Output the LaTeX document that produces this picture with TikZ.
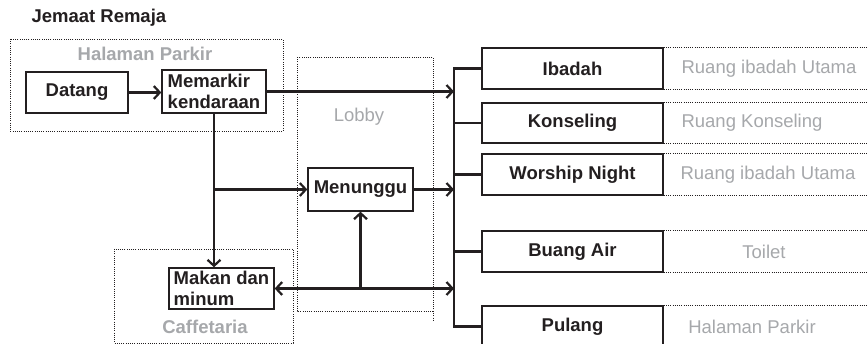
\documentclass[tikz,border=0pt]{standalone}
\usepackage{fontspec}
\setmainfont{Liberation Sans}
\usetikzlibrary{arrows.meta}
\definecolor{ink}{HTML}{231F20}
\definecolor{soft}{HTML}{A6A8AB}

\begin{document}
\begin{tikzpicture}[x=1pt,y=-1pt,
  box/.style={draw=ink, line width=1.4pt, text=ink, inner sep=0pt,
    font=\bfseries\fontsize{18.5}{21}\selectfont},
  zone/.style={draw=ink, dash pattern=on 1pt off 1.2pt, line width=0.7pt},
  zonelabel/.style={text=soft, font=\bfseries\fontsize{18.5}{21}\selectfont},
  place/.style={text=soft, font=\fontsize{18.5}{21}\selectfont},
  wire/.style={draw=ink, line width=2.2pt},
  flow/.style={wire, -{Straight Barb[length=6pt,width=13pt]}},
  twoway/.style={wire, {Straight Barb[length=6pt,width=13pt]}-{Straight Barb[length=6pt,width=13pt]}},
]
\useasboundingbox (0,0) rectangle (867,344);
\clip (0,0) rectangle (867,344);
\fill[white] (0,0) rectangle (867,344);

% title
\node[anchor=base west, text=ink, font=\bfseries\fontsize{18.5}{21}\selectfont] (title) at (28,23) {Jemaat Remaja};

% zones
\draw[zone] (10,39) rectangle (283,131);
\node[zonelabel] (parkirLabel) at (145,54) {Halaman Parkir};
\draw[zone] (297,57) rectangle (433,311);
\draw[zone] (433,311) -- (433,322);
\node[place] (lobbyLabel) at (359,117) {Lobby};
\draw[zone] (114,249) rectangle (293,343);
\node[zonelabel] (cafeLabel) at (205,327) {Caffetaria};

% left-hand boxes
\node[box, minimum width=102pt, minimum height=41pt] (datang) at (77,92.5) {Datang};
\node[box, minimum width=104pt, minimum height=43pt, align=left] (parkir) at (214,91.5) {Memarkir\\kendaraan};
\node[box, minimum width=105pt, minimum height=43pt] (tunggu) at (360.5,189.5) {Menunggu};
\node[box, minimum width=105pt, minimum height=41pt, align=left] (makan) at (221.5,288.5) {Makan dan\\minum};

% activity boxes
\node[box, minimum width=181pt, minimum height=41pt] (ibadah) at (572.5,68.5) {Ibadah};
\node[box, minimum width=181pt, minimum height=40pt] (konsel) at (572.5,123) {Konseling};
\node[box, minimum width=181pt, minimum height=41pt] (worship) at (572.5,174.5) {Worship Night};
\node[box, minimum width=181pt, minimum height=41pt] (toilet) at (572.5,251.5) {Buang Air};
\node[box, minimum width=181pt, minimum height=41pt] (pulang) at (572.5,326.5) {Pulang};

% locations of the activities
\coordinate (edge) at (867,0);
\foreach \b in {ibadah,konsel,worship,toilet,pulang}{
  \draw[zone] (\b.north east) -- (\b.north east -| edge);
  \draw[zone] (\b.south east) -- (\b.south east -| edge);
}
\node[place] (ibadahPlace) at (769,68.5) {Ruang ibadah Utama};
\node[place] (konselPlace) at (752,123) {Ruang Konseling};
\node[place] (worshipPlace) at (768,174.5) {Ruang ibadah Utama};
\node[place] (toiletPlace) at (764,251.5) {Toilet};
\node[place] (pulangPlace) at (752,326.5) {Halaman Parkir};

% distribution bar
\coordinate (bus) at (454,0);
\draw[wire] (ibadah.west) -- (bus |- ibadah.west) -- (bus |- pulang.west) -- (pulang.west);
\draw[wire] (bus |- konsel.west) -- (konsel.west);
\draw[wire] (bus |- worship.west) -- (worship.west);
\draw[wire, line width=3.5pt] (bus |- toilet.west) -- (toilet.west);

% flows
\draw[flow] (datang.east) -- (datang.east -| parkir.west);
\draw[flow] (parkir.east) -- (parkir.east -| bus);
\draw[flow] (parkir.south) -- (parkir.south |- makan.north);
\coordinate (split) at (parkir.south |- tunggu.west);
\draw[flow] (split) -- (tunggu.west);
\draw[flow] (tunggu.east) -- (tunggu.east -| bus);
\draw[twoway] (makan.east) -- (makan.east -| bus);
\coordinate (rise) at (tunggu.south |- makan.east);
\draw[flow] (rise) -- (tunggu.south);
\end{tikzpicture}
\end{document}
